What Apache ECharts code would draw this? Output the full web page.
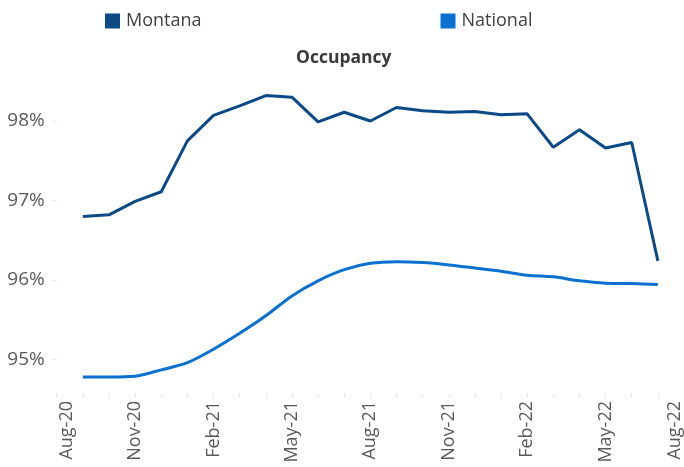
<!DOCTYPE html>
<html>
<head>
<meta charset="utf-8">
<script src="https://cdn.jsdelivr.net/npm/echarts@6/dist/echarts.min.js"></script>
<style>html,body{margin:0;padding:0;background:#fff;}#c{width:684px;height:467px;}</style>
</head>
<body>
<div id="c"></div>
<script>
var months = ['Aug-20','Sep-20','Oct-20','Nov-20','Dec-20','Jan-21','Feb-21','Mar-21','Apr-21','May-21','Jun-21','Jul-21',
  'Aug-21','Sep-21','Oct-21','Nov-21','Dec-21','Jan-22','Feb-22','Mar-22','Apr-22','May-22','Jun-22','Jul-22','Aug-22'];
var montana = [null,96.80,96.82,96.99,97.11,97.75,98.07,98.19,98.32,98.30,97.99,98.11,
  98.00,98.17,98.13,98.11,98.12,98.08,98.09,97.67,97.89,97.66,97.73,96.24,null];
var national = [null,94.78,94.78,94.79,94.87,94.96,95.13,95.33,95.55,95.80,95.99,96.13,
  96.21,96.23,96.22,96.19,96.15,96.11,96.06,96.04,95.99,95.96,95.955,95.945,null];
var yTicks = [95,96,97,98];

var FONT = 'Open Sans';
var chart = echarts.init(document.getElementById('c'), null, {renderer:'canvas'});
chart.setOption({
  animation:false,
  backgroundColor:'#fff',
  title:{text:'Occupancy', left:291, top:44,
    textStyle:{fontFamily:FONT, fontSize:17.5, fontWeight:'bold', color:'#3a3a3a'}},
  legend:{left:100, top:7, itemWidth:15, itemHeight:15, itemGap:239, icon:'rect',
    textStyle:{fontFamily:FONT, fontSize:18, color:'#404040', padding:[0,0,0,1]},
    data:['Montana','National']},
  grid:{left:56.7, top:81.25, width:629.6, height:311.75, containLabel:false},
  xAxis:{type:'category', data:months, boundaryGap:false,
    axisLine:{show:false},
    axisTick:{show:true, interval:0, length:4, lineStyle:{color:'#e3e3e3'}},
    axisLabel:{interval:2, rotate:90, margin:8, fontFamily:FONT, fontSize:18, color:'#595959',
      formatter:function(v, i){
        if(i===0) return '{f|'+v+'}';
        if(i===months.length-1) return '{l|'+v+'}';
        return v;
      },
      rich:{
        f:{fontFamily:FONT, fontSize:18, color:'#595959', padding:[21,0,0,0]},
        l:{fontFamily:FONT, fontSize:18, color:'#595959', padding:[0,0,18,0]}
      }}
  },
  yAxis:{type:'value', min:94.579, max:98.5,
    axisLine:{show:false}, splitLine:{show:false},
    axisTick:{show:true, length:4, customValues:yTicks, lineStyle:{color:'#ececec'}},
    axisLabel:{customValues:yTicks, margin:12, fontFamily:FONT, fontSize:19, color:'#595959',
      padding:[3,0,0,0],
      formatter:function(v){return Math.round(v)+'%';}}
  },
  series:[
    {name:'Montana', type:'line', data:montana, showSymbol:false, symbol:'none',
      itemStyle:{color:'#0b4a87'}, lineStyle:{color:'#0b4a87', width:3}},
    {name:'National', type:'line', data:national, showSymbol:false, symbol:'none', smooth:0.3,
      itemStyle:{color:'#0a71d0'}, lineStyle:{color:'#0a71d0', width:3}}
  ]
});
</script>
</body>
</html>
